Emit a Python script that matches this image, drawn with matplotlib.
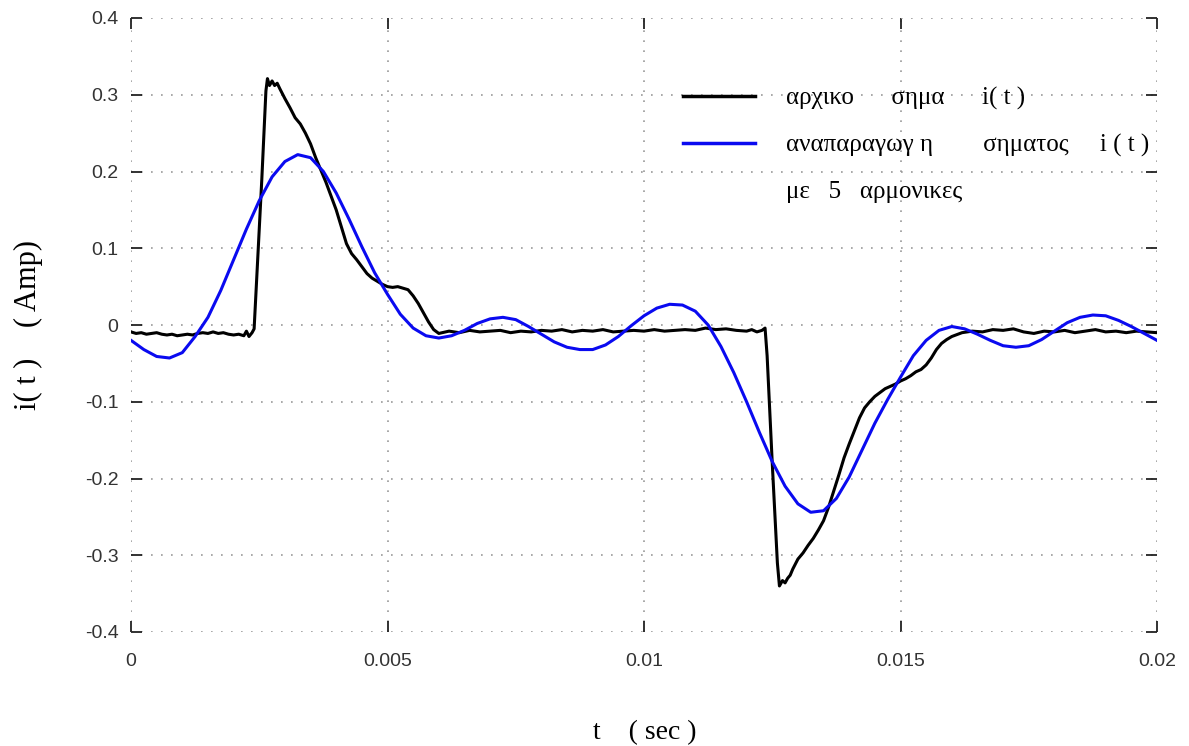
import numpy as np
import matplotlib
matplotlib.use('Agg')
import matplotlib.pyplot as plt
from matplotlib.lines import Line2D


# original signal i(t): time in ms, current in A
t_orig_ms = [0.0, 0.1, 0.2, 0.3, 0.4, 0.5, 0.6, 0.7, 0.8, 0.9, 1.0, 1.1, 1.2, 1.3, 1.4,
             1.5, 1.6, 1.7, 1.8, 1.9, 2.0, 2.1, 2.2, 2.25, 2.3, 2.36,
             2.40, 2.45, 2.50, 2.55, 2.60, 2.63, 2.66, 2.70, 2.75, 2.80, 2.85, 2.90,
             3.0, 3.1, 3.2, 3.3, 3.4, 3.5, 3.6, 3.7, 3.8, 3.9, 4.0, 4.1, 4.2, 4.3,
             4.4, 4.5, 4.6, 4.7, 4.8, 4.9, 5.0, 5.1, 5.2, 5.3, 5.4, 5.5, 5.6, 5.7,
             5.8, 5.9, 6.0, 6.2, 6.4, 6.6, 6.8, 7.0, 7.2, 7.4, 7.6, 7.8, 8.0, 8.2,
             8.4, 8.6, 8.8, 9.0, 9.2, 9.4, 9.6, 9.8, 10.0, 10.2, 10.4, 10.6, 10.8,
             11.0, 11.2, 11.4, 11.6, 11.8, 12.0, 12.1, 12.2, 12.3, 12.36,
             12.40, 12.45, 12.50, 12.55, 12.60, 12.64, 12.70, 12.75, 12.80, 12.85,
             12.9, 13.0, 13.1, 13.2, 13.3, 13.4, 13.5, 13.6, 13.7, 13.8, 13.9, 14.0,
             14.1, 14.2, 14.3, 14.4, 14.5, 14.6, 14.7, 14.8, 14.9, 15.0, 15.1, 15.2,
             15.3, 15.4, 15.5, 15.6, 15.7, 15.8, 15.9, 16.0, 16.2, 16.4, 16.6, 16.8,
             17.0, 17.2, 17.4, 17.6, 17.8, 18.0, 18.2, 18.4, 18.6, 18.8, 19.0, 19.2,
             19.4, 19.6, 19.8, 20.0]
i_orig = [-0.009, -0.011, -0.010, -0.012, -0.011, -0.010, -0.012, -0.013, -0.012, -0.014,
          -0.013, -0.012, -0.013, -0.011, -0.010, -0.011, -0.009, -0.011, -0.010, -0.012,
          -0.013, -0.012, -0.014, -0.008, -0.015, -0.010,
          -0.005, 0.060, 0.125, 0.190, 0.260, 0.305, 0.321, 0.312, 0.318, 0.312, 0.315, 0.308,
          0.295, 0.283, 0.270, 0.262, 0.250, 0.236, 0.218, 0.202, 0.186, 0.168, 0.150, 0.128,
          0.106, 0.093, 0.085, 0.076, 0.067, 0.061, 0.057, 0.053, 0.050, 0.049, 0.050, 0.048,
          0.046, 0.038, 0.028, 0.016, 0.004, -0.006, -0.011, -0.008, -0.010, -0.007, -0.009,
          -0.008, -0.007, -0.010, -0.008, -0.009, -0.007, -0.008, -0.006, -0.009, -0.007,
          -0.008, -0.006, -0.009, -0.008, -0.007, -0.008, -0.006, -0.008, -0.007, -0.006,
          -0.007, -0.004, -0.006, -0.005, -0.007, -0.008, -0.006, -0.009, -0.007, -0.004,
          -0.040, -0.110, -0.180, -0.245, -0.310, -0.340, -0.333, -0.336, -0.330, -0.326,
          -0.318, -0.305, -0.297, -0.287, -0.278, -0.267, -0.255, -0.237, -0.216, -0.195,
          -0.173, -0.155, -0.138, -0.121, -0.108, -0.100, -0.093, -0.088, -0.083, -0.080,
          -0.077, -0.073, -0.070, -0.066, -0.061, -0.058, -0.052, -0.043, -0.032, -0.024,
          -0.019, -0.015, -0.010, -0.008, -0.009, -0.006, -0.007, -0.005, -0.009, -0.011,
          -0.008, -0.009, -0.007, -0.010, -0.008, -0.006, -0.009, -0.008, -0.010, -0.008,
          -0.009, -0.010]

# reconstruction with 5 harmonics
t_rec_ms = [0.0, 0.25, 0.5, 0.75, 1.0, 1.25, 1.5, 1.75, 2.0, 2.25, 2.5, 2.75, 3.0, 3.25,
            3.5, 3.75, 4.0, 4.25, 4.5, 4.75, 5.0, 5.25, 5.5, 5.75, 6.0, 6.25, 6.5, 6.75,
            7.0, 7.25, 7.5, 7.75, 8.0, 8.25, 8.5, 8.75, 9.0, 9.25, 9.5, 9.75, 10.0, 10.25,
            10.5, 10.75, 11.0, 11.25, 11.5, 11.75, 12.0, 12.25, 12.5, 12.75, 13.0, 13.25,
            13.5, 13.75, 14.0, 14.25, 14.5, 14.75, 15.0, 15.25, 15.5, 15.75, 16.0, 16.25,
            16.5, 16.75, 17.0, 17.25, 17.5, 17.75, 18.0, 18.25, 18.5, 18.75, 19.0, 19.25,
            19.5, 19.75, 20.0]
i_rec = [-0.020, -0.032, -0.041, -0.043, -0.036, -0.015, 0.010, 0.045, 0.085, 0.125,
         0.162, 0.193, 0.213, 0.222, 0.218, 0.200, 0.172, 0.138, 0.102, 0.068, 0.040,
         0.014, -0.004, -0.014, -0.017, -0.014, -0.007, 0.002, 0.008, 0.010, 0.007,
         -0.002, -0.012, -0.022, -0.029, -0.032, -0.032, -0.026, -0.015, -0.001, 0.012,
         0.022, 0.027, 0.026, 0.018, 0.000, -0.028, -0.062, -0.100, -0.140, -0.178,
         -0.210, -0.233, -0.244, -0.242, -0.226, -0.198, -0.163, -0.128, -0.097, -0.068,
         -0.040, -0.020, -0.007, -0.002, -0.005, -0.012, -0.020, -0.027, -0.029, -0.027,
         -0.019, -0.008, 0.003, 0.010, 0.013, 0.012, 0.006, -0.002, -0.011, -0.020]

labels = ['αρχικο      σημα      i( t )',
          'αναπαραγωγ η        σηματος     i ( t )',
          'με   5   αρμονικες']

x_ticks = [0, 0.005, 0.01, 0.015, 0.02]
x_ticklabels = ['0', '0.005', '0.01', '0.015', '0.02']
y_ticks = [-0.4, -0.3, -0.2, -0.1, 0, 0.1, 0.2, 0.3, 0.4]
y_ticklabels = ['-0.4', '-0.3', '-0.2', '-0.1', '0', '0.1', '0.2', '0.3', '0.4']

fig = plt.figure(figsize=(11.89, 7.46), dpi=100)
ax = fig.add_axes([131/1189, 1 - 632/746, (1157 - 131)/1189, (632 - 18)/746])

t_orig = np.array(t_orig_ms) / 1000
t_rec = np.array(t_rec_ms) / 1000

ax.plot(t_orig, i_orig, color='black', linewidth=2.2, zorder=3)
ax.plot(t_rec, i_rec, color='#0a0af0', linewidth=2.2, zorder=3)

ax.set_xlim(0, 0.02)
ax.set_ylim(-0.4, 0.4)
ax.set_xticks(x_ticks)
ax.set_xticklabels(x_ticklabels)
ax.set_yticks(y_ticks)
ax.set_yticklabels(y_ticklabels)

for s in ax.spines.values():
    s.set_visible(False)
ax.tick_params(direction='in', length=8, width=1.3, color='#222222',
               top=True, right=True, labelsize=14, labelcolor='#333333')
ax.tick_params(axis='x', pad=15)
ax.tick_params(axis='y', pad=9)
for lab in ax.get_xticklabels() + ax.get_yticklabels():
    lab.set_family('Liberation Sans')

ax.grid(True, color='#999999', linestyle=(0, (1, 5)), linewidth=1.2)
ax.set_axisbelow(True)

ax.set_xlabel('t    ( sec )', family='Liberation Serif', fontsize=20, va='center')
ax.xaxis.set_label_coords(0.501, -0.1645)
ax.set_ylabel('i( t )    ( Amp)', family='Liberation Serif', fontsize=22, va='center')
ax.yaxis.set_label_coords(-0.1004, 0.5)

handles = [Line2D([], [], color='black', linewidth=2.5),
           Line2D([], [], color='#0a0af0', linewidth=2.5),
           Line2D([], [], color='none')]
leg = ax.legend(handles, labels, loc='upper left',
                bbox_to_anchor=(683/1189, 1 - 87/746), bbox_transform=fig.transFigure,
                frameon=False, borderpad=0, borderaxespad=0, handlelength=2.87,
                handletextpad=1.27, labelspacing=0.95,
                prop={'family': 'Liberation Serif', 'size': 18})

fig.savefig('out.png', dpi=100)
